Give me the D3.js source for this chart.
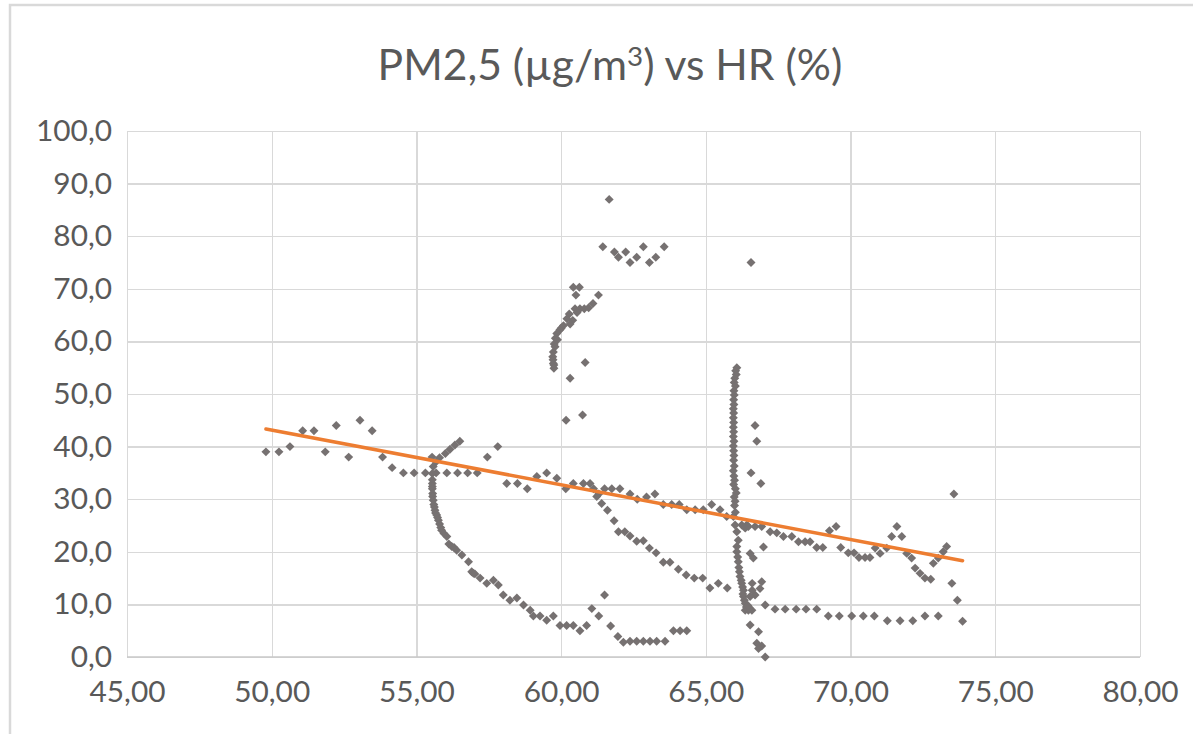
<!DOCTYPE html>
<html>
<head>
<meta charset="utf-8">
<script src="https://cdn.jsdelivr.net/npm/d3@7"></script>
<style>
  html, body { margin: 0; padding: 0; background: #fff; }
  svg { display: block; }
  text { font-family: Lato, "Open Sans", sans-serif; fill: #595959; }
</style>
</head>
<body>
<svg width="1193" height="734"></svg>
<script>
// chart values: [HR %, PM2,5 µg/m3]
const leftPoints = [[49.8,39],[50.25,39],[50.63,40],[51.07,43],[51.46,43],[51.85,39],[52.23,44],[52.66,38],[53.05,45],[53.47,43],[53.83,38],[54.16,36],[54.55,35],[54.92,35],[55.31,35],[55.54,38],
  [55.68,35],[56.05,35],[56.42,35],[56.77,35],[57.1,35],[57.45,38],[57.81,40]];

const arcPoints = [[56.5,41],[56.33,40.3],[56.16,39.5],[56,38.7],[55.8,37.9],[55.68,37.1],[55.58,36.2],[55.55,34.9],[55.55,33.7],[55.55,33],[55.55,32.4],[55.55,32],[55.56,31.1],[55.56,30.5],[55.58,29.8],[55.6,29],
  [55.62,28.5],[55.64,27.9],[55.66,27.4],[55.7,27],[55.73,26.5],[55.76,26],[55.8,25.3],[55.84,24.6],[55.87,24.1],[55.95,23.5],[56.05,22.9],[56.12,21.5],[56.22,21],[56.3,20.8],[56.39,20.3],[56.57,19.4],[56.8,18.1],
  [56.91,16.2],[56.97,15.9],[57.02,15.8],[57.2,15],[57.43,14],[57.66,14.6],[57.83,13.7],[58,11.8],[58.23,10.8],[58.47,11.2],[58.7,9.9],[58.93,8.9],[59.04,7.8],[59.27,7.8],[59.5,7],[59.73,7.8],
  [59.96,6],[60.19,6],[60.42,6],[60.65,5],[60.88,6]];

const middlePoints = [[58.12,33],[58.49,33],[58.83,32],[59.16,34.3],[59.5,35],[59.85,34],[60.16,32],[60.42,33],[60.77,33],[61,33],[61.12,32],
  [61.3,31],[61.5,32],[61.75,32],[62.03,32],[62.38,31],[62.63,30],[62.95,30.4],[63.24,31],[63.53,29],[63.82,29],[64.08,29],[64.34,28],[64.63,28],[64.91,28],[65.2,29],[65.49,28],[65.72,26.7],
  [61.23,30.5],[61.4,29.2],[61.6,27.9],[61.83,25.9],[61.98,23.8],[62.2,23.8],[62.38,23],[62.61,22],[62.84,22.1],[63.05,20.7],[63.28,19.8],[63.53,18],[63.76,18],[64.05,16.7],[64.32,15.6],[64.6,15],[64.89,15],[65.14,13.1],[65.43,14],[65.74,13.1]];

const bottomPoints = [[61.06,9.2],[61.3,7.8],[61.5,11.8],[61.71,5.9],[61.96,3.9],[62.15,2.8],[62.38,3],[62.61,3],[62.84,3],[63.07,3],[63.3,3],[63.59,3],[63.88,5],[64.11,5],[64.34,5]];

const upperPoints = [[61.66,87],[61.44,78],[61.84,77],[61.98,76],[62.23,77],[62.38,75],[62.61,76],[62.84,78],[63.05,75],[63.27,76],[63.56,78],[66.56,75],
  [60.42,70.3],[60.63,70.3],[60.51,68.8],[61.29,68.8],[61.1,67.2],[60.48,66.2],[60.65,66.2],[60.8,66.2],[60.95,66.4],[60.55,65.5],[60.28,65.2],[60.4,64],[60.2,64.3],[60.31,63.3],[60.08,63],[60,62.5],[59.96,62.2],
  [59.85,61.5],[59.8,60.6],[59.87,60.3],[59.76,59.5],[59.79,59],[59.73,58],[59.71,57.1],[59.72,56.5],[59.73,55.8],[59.75,55.5],[59.75,54.9],[60.83,56],[60.31,53],[60.74,46],[60.17,45]];

const columnPoints = [[66.07,55],[66.03,54.4],[66.05,53.7],[66,53],[65.98,52.2],[66.02,51.5],[65.97,50.6],[65.98,49.8],[65.96,48.9],[65.97,48],[65.95,47.2],[65.96,46.4],[65.95,45.5],[65.96,44.6],[65.95,43.7],
  [65.96,42.8],[65.95,41.9],[65.97,41],[65.95,40.1],[65.96,39.2],[65.97,38.3],[65.96,37.4],[65.98,36.3],[65.95,35.4],[65.97,34.4],[65.99,33.6],[65.96,32.8],[66.02,32],[66.05,31.2],[65.98,30.4],[66.01,29.6],
  [65.99,28.8],[66.02,27.5],[65.95,26.7],[66.01,25.1],[66.07,23.8],[66.12,22.2],[66.07,21],[66.07,20],[66.1,19],[66.12,18.1],[66.14,17],[66.16,16.2],[66.18,15.3],[66.22,14.6],[66.24,14],[66.27,13.3],
  [66.3,12.7],[66.3,11.5],[66.33,10.8],[66.36,10.2],[66.36,8.9],[66.47,8.9],[66.59,8.9],[66.4,9.5],[66.5,9.3],[66.45,9.8],[66.53,6.1],[66.82,4.8],[66.76,2.6],[66.93,2.1],[66.82,1.6],[67.05,0],
  [66.7,44],[66.76,41],[66.56,35],[66.9,33],[66.53,19.7],[66.64,18.8],[66.99,20.9],[66.93,14.3],[66.87,13],[66.7,11.8],[66.53,11.5],[66.28,12],[66.6,12.7],[66.6,14],[67.05,9.9],[66.24,25.1],[66.41,25.1]];

const rightPoints = [[66.36,24.5],[66.47,24.8],[66.7,24.8],[66.93,24.8],[67.22,23.8],[67.45,23.6],[67.68,22.9],[67.97,22.9],[68.2,21.9],[68.43,21.9],[68.6,21.9],[68.83,20.8],[69.04,20.8],[69.27,24],[69.5,24.8],
  [69.66,20.8],[69.92,19.8],[70.12,19.8],[70.29,18.9],[70.5,18.9],[70.67,18.9],[70.85,20.7],[71.02,19.7],[71.25,20.7],[71.42,22.9],[71.6,24.8],[71.77,22.9],[71.94,19.7],[72.11,18.8],[72.23,16.9],[72.4,15.9],
  [72.57,15],[72.77,14.8],[72.86,17.8],[73.03,18.8],[73.2,20],[73.32,21],[73.57,31],[73.5,14],[73.69,10.8],[73.87,6.8],
  [67.39,9.1],[67.74,9.1],[68.12,9.1],[68.46,9.1],[68.83,9.1],[69.23,7.8],[69.61,7.8],[70.04,7.8],[70.44,7.8],[70.82,7.8],[71.27,6.9],[71.71,6.9],[72.15,6.9],[72.57,7.8],[73.03,7.8]];

const xTicks = [45, 50, 55, 60, 65, 70, 75, 80];
const yTicks = [0, 10, 20, 30, 40, 50, 60, 70, 80, 90, 100];
// linear trendline
const trendSlope = -1.04;
const trendIntercept = 95.14;

const allPoints = [].concat(leftPoints, arcPoints, middlePoints, bottomPoints, upperPoints, columnPoints, rightPoints);

const svg = d3.select('svg');
const plot = {left: 127, right: 1140, top: 131, bottom: 657};

// outer chart frame
svg.append('rect')
  .attr('x', 10).attr('y', 5)
  .attr('width', 1400).attr('height', 1000)
  .style('fill', 'none')
  .style('stroke', '#d9d9d9')
  .style('stroke-width', 2.5);

const x = d3.scaleLinear().domain([45, 80]).range([plot.left, plot.right]);
const y = d3.scaleLinear().domain([0, 100]).range([plot.bottom, plot.top]);

const comma = (d, digits) => d.toFixed(digits).replace('.', ',');

const xAxis = svg.append('g')
  .attr('transform', 'translate(0,' + plot.bottom + ')')
  .call(d3.axisBottom(x).tickValues(xTicks).tickSize(-(plot.bottom - plot.top)).tickPadding(24).tickFormat(d => comma(d, 2)));

const yAxis = svg.append('g')
  .attr('transform', 'translate(' + plot.left + ',0)')
  .call(d3.axisLeft(y).tickValues(yTicks).tickSize(-(plot.right - plot.left)).tickPadding(15).tickFormat(d => comma(d, 1)));

[xAxis, yAxis].forEach(function(a) {
  a.select('.domain').remove();
  a.selectAll('.tick line').style('stroke', '#d9d9d9').style('stroke-width', 1.3).attr('shape-rendering', 'crispEdges');
  a.selectAll('.tick text').style('fill', '#595959').style('font-family', 'Lato, sans-serif');
});

// bottom axis line a bit darker
svg.append('line')
  .attr('x1', plot.left).attr('x2', plot.right)
  .attr('y1', plot.bottom).attr('y2', plot.bottom)
  .style('stroke', '#c8c8c8').style('stroke-width', 1.5);

// size tick labels so "100,0" is about 76px wide
const probe = yAxis.selectAll('.tick text').filter(d => d === 100);
probe.style('font-size', '100px');
const tickSize = 100 * 76 / probe.node().getComputedTextLength();
svg.selectAll('.tick text').style('font-size', tickSize + 'px');
xAxis.selectAll('.tick text').attr('dy', '0.71em');

// points
const diamond = d3.symbol().type(d3.symbolSquare).size(40);
svg.append('g')
  .selectAll('path')
  .data(allPoints)
  .enter().append('path')
  .attr('d', diamond)
  .attr('transform', d => 'translate(' + x(d[0]) + ',' + y(d[1]) + ') rotate(45)')
  .style('fill', '#767171');

// trendline over the full x range of the data
const xMin = d3.min(allPoints, d => d[0]);
const xMax = d3.max(allPoints, d => d[0]);
svg.append('line')
  .attr('x1', x(xMin)).attr('y1', y(trendSlope * xMin + trendIntercept))
  .attr('x2', x(xMax)).attr('y2', y(trendSlope * xMax + trendIntercept))
  .style('stroke', '#ED7D31')
  .style('stroke-width', 3.5)
  .style('stroke-linecap', 'round');

// title
const title = svg.append('text')
  .attr('x', 610).attr('y', 80)
  .attr('text-anchor', 'middle')
  .style('font-size', '40px')
  .style('fill', '#595959');
title.append('tspan').text('PM2,5 (µg/m');
title.append('tspan').text('3').attr('dy', -14).style('font-size', '26px');
title.append('tspan').text(') vs HR (%)').attr('dy', 14);
const tw = title.node().getComputedTextLength();
const scaleT = 465 / tw;
title.style('font-size', (40 * scaleT) + 'px');
title.selectAll('tspan').filter((d, i) => i === 1).style('font-size', (26 * scaleT) + 'px');
</script>
</body>
</html>
